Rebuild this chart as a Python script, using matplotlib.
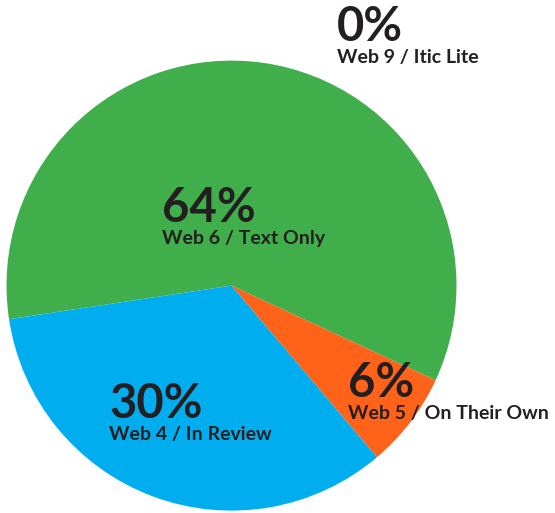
import matplotlib
matplotlib.use("Agg")
import matplotlib.pyplot as plt

# slice data (clockwise from the left edge of the pie)
names = ["Web 6 / Text Only", "Web 5 / On Their Own", "Web 4 / In Review", "Web 9 / Itic Lite"]
percent_labels = ["64%", "6%", "30%", "0%"]
# wedge sizes as drawn in the picture
shares = [59.3, 6.9, 33.8, 0.0]
colors = ["#41ae4c", "#ff6319", "#00aeef", "#9e9e9e"]

# label anchors in pixels (left, baseline of the big number), y measured from top
label_pos = [(162, 222), (348, 397), (109, 418), (337, 41)]

W, H = 555, 513
fig = plt.figure(figsize=(W / 100, H / 100), dpi=100)
ax = fig.add_axes([0, 0, 1, 1])

ax.pie(shares, colors=colors, startangle=188.6, counterclock=False,
       center=(231.5, H - 285.6), radius=225,
       wedgeprops=dict(linewidth=0), frame=True)

txt_color = "#231f20"
for (x, y), pct, name in zip(label_pos, percent_labels, names):
    ax.text(x, H - y, pct, fontsize=34, fontweight="bold", family="Lato",
            color=txt_color, ha="left", va="baseline")
    ax.text(x, H - y - 22, name, fontsize=14, fontweight="bold", family="Lato",
            color=txt_color, ha="left", va="baseline")

ax.set_xlim(0, W)
ax.set_ylim(0, H)
ax.set_aspect("equal")
ax.axis("off")

fig.savefig("out.png", dpi=100)
